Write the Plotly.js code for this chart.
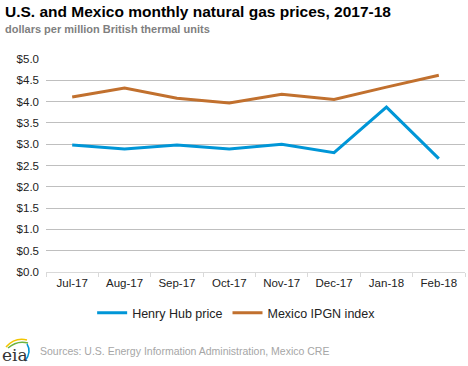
<!DOCTYPE html>
<html>
<head>
<meta charset="utf-8">
<script src="https://cdn.plot.ly/plotly-3.0.1.min.js"></script>
<style>html,body{margin:0;padding:0;background:#fff;}#chart{width:468px;height:366px;}</style>
</head>
<body>
<div id="chart"></div>
<script>
var months = ["Jul-17","Aug-17","Sep-17","Oct-17","Nov-17","Dec-17","Jan-18","Feb-18"];
var henryHub = [2.98, 2.89, 2.98, 2.89, 3.00, 2.80, 3.87, 2.66];
var mexicoIPGN = [4.11, 4.32, 4.08, 3.97, 4.17, 4.05, 4.34, 4.62];
var yTicks = [0, 0.5, 1, 1.5, 2, 2.5, 3, 3.5, 4, 4.5, 5];
var yTickLabels = ["$0.0","$0.5","$1.0","$1.5","$2.0","$2.5","$3.0","$3.5","$4.0","$4.5","$5.0"];

var F = "Liberation Sans, Arial, sans-serif";
var W = 468, H = 366;
var m = {l: 46, r: 3, t: 59, b: 94};
var pw = W - m.l - m.r, ph = H - m.t - m.b;
function px(x){ return (x - m.l) / pw; }
function py(y){ return (H - m.b - y) / ph; }

var traces = [
  {x: months, y: henryHub, name: "Henry Hub price", type: "scatter", mode: "lines",
   line: {color: "#0096d7", width: 3}},
  {x: months, y: mexicoIPGN, name: "Mexico IPGN index", type: "scatter", mode: "lines",
   line: {color: "#c1702e", width: 3}}
];

var layout = {
  width: W, height: H,
  margin: m,
  paper_bgcolor: "#fff", plot_bgcolor: "#fff",
  font: {family: F, size: 11, color: "#222"},
  showlegend: true,
  legend: {orientation: "h", x: 0.455, xanchor: "center", y: py(313), yanchor: "middle",
           font: {family: F, size: 12.5, color: "#222"}, itemwidth: 30, tracegroupgap: 0},
  xaxis: {type: "category", tickson: "boundaries", ticks: "outside", ticklen: 4,
          tickcolor: "#d9d9d9", showline: true, linecolor: "#d9d9d9", linewidth: 1,
          showgrid: false, zeroline: false, range: [-0.5, 7.5],
          tickfont: {family: F, size: 11.5, color: "#222"}},
  yaxis: {range: [0, 5], tickmode: "array", tickvals: yTicks, ticktext: yTickLabels,
          showgrid: true, gridcolor: "#bfbfbf", gridwidth: 1, zeroline: false,
          showline: false, ticks: "", ticklabelstandoff: 6,
          tickfont: {family: F, size: 11.5, color: "#222"}},
  annotations: [
    {text: "<b>U.S. and Mexico monthly natural gas prices, 2017-18</b>", xref: "paper", yref: "paper",
     x: px(3), y: py(11), xanchor: "left", yanchor: "middle", showarrow: false,
     font: {family: F, size: 15.5, color: "#000"}},
    {text: "<b>dollars per million British thermal units</b>", xref: "paper", yref: "paper",
     x: px(3), y: py(29), xanchor: "left", yanchor: "middle", showarrow: false,
     font: {family: F, size: 11, color: "#7f7f7f"}},
    {text: "Sources: U.S. Energy Information Administration, Mexico CRE", xref: "paper", yref: "paper",
     x: px(38), y: py(351), xanchor: "left", yanchor: "middle", showarrow: false,
     font: {family: F, size: 10.5, color: "#a6a6a6"}},
    {text: "eia", xref: "paper", yref: "paper",
     x: px(0), y: py(355), xanchor: "left", yanchor: "middle", showarrow: false,
     font: {family: "DejaVu Serif, serif", size: 17, color: "#333"}}
  ],
  shapes: [
    {type: "path", xref: "paper", yref: "paper", line: {color: "#f2c500", width: 1.5},
     path: "M " + px(6) + "," + py(347) + " Q " + px(15) + "," + py(337) + " " + px(27) + "," + py(340)},
    {type: "path", xref: "paper", yref: "paper", line: {color: "#6cb33f", width: 1.5},
     path: "M " + px(8) + "," + py(348) + " Q " + px(17) + "," + py(340) + " " + px(28) + "," + py(343)},
    {type: "path", xref: "paper", yref: "paper", line: {color: "#0096d7", width: 1.5},
     path: "M " + px(27) + "," + py(344) + " Q " + px(32) + "," + py(352) + " " + px(25) + "," + py(361)}
  ]
};

Plotly.newPlot("chart", traces, layout, {displayModeBar: false, staticPlot: true});
</script>
</body>
</html>
